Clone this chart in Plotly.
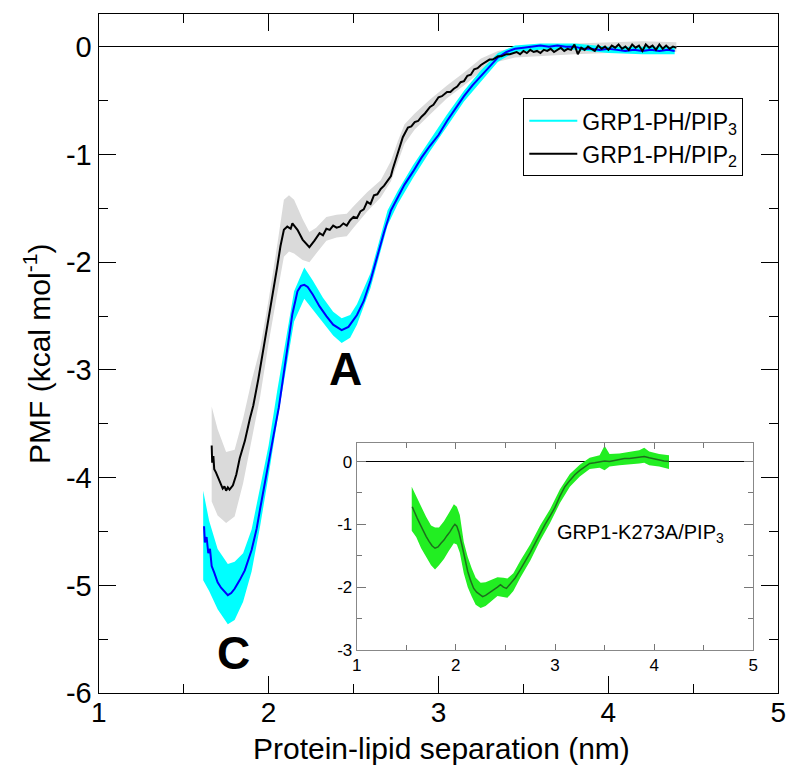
import plotly.graph_objects as go

# ---------------- main panel data ----------------
# GRP1-PH / PIP3 (blue line, cyan band)
pip3_x = [1.62, 1.625, 1.635, 1.645, 1.655, 1.665, 1.68, 1.70, 1.72, 1.74, 1.76, 1.78, 1.80,
          1.83, 1.86, 1.90, 1.93, 1.95, 2.00, 2.03, 2.06, 2.10, 2.14, 2.17, 2.19, 2.21, 2.23,
          2.26, 2.30, 2.34, 2.38, 2.43, 2.47, 2.52, 2.56, 2.60, 2.64, 2.68, 2.72, 2.76, 2.80,
          2.85, 2.90, 2.95, 3.00, 3.05, 3.10, 3.15, 3.20, 3.25, 3.30, 3.35, 3.40, 3.45, 3.50,
          3.55, 3.60, 3.65, 3.70, 3.75, 3.80, 3.85, 3.90, 3.95, 4.00, 4.05, 4.10, 4.15, 4.20,
          4.25, 4.30, 4.35, 4.39]
pip3_y = [-4.45, -4.60, -4.55, -4.70, -4.66, -4.82, -4.88, -4.97, -5.02, -5.06, -5.09, -5.07, -5.03,
          -4.95, -4.86, -4.67, -4.47, -4.29, -3.88, -3.60, -3.35, -2.90, -2.48, -2.27, -2.22, -2.21, -2.23,
          -2.30, -2.41, -2.50, -2.58, -2.63, -2.60, -2.49, -2.36, -2.17, -1.94, -1.72, -1.52, -1.40, -1.28,
          -1.16, -1.03, -0.92, -0.82, -0.69, -0.57, -0.46, -0.36, -0.27, -0.18, -0.10, -0.05, -0.02, -0.01,
          0.00, 0.01, 0.00, 0.01, 0.00, 0.00, -0.02, -0.02, -0.03, -0.02, -0.03, -0.04, -0.03, -0.04,
          -0.03, -0.04, -0.03, -0.04]
pip3_band_x = [1.615, 1.65, 1.70, 1.76, 1.80, 1.85, 1.90, 1.95, 2.00, 2.05, 2.10, 2.15, 2.21, 2.26,
               2.32, 2.38, 2.43, 2.48, 2.52, 2.60, 2.70, 2.76, 2.85, 2.95, 3.05, 3.15, 3.25, 3.35,
               3.45, 3.60, 3.80, 4.00, 4.20, 4.39]
pip3_band_lo = [-4.95, -5.05, -5.22, -5.36, -5.32, -5.15, -4.87, -4.45, -3.98, -3.48, -3.00, -2.55, -2.34, -2.44,
                -2.56, -2.68, -2.75, -2.70, -2.58, -2.24, -1.66, -1.46, -1.22, -0.97, -0.74, -0.51, -0.32, -0.14,
                -0.05, -0.03, -0.03, -0.06, -0.07, -0.07]
pip3_band_hi = [-4.12, -4.40, -4.66, -4.80, -4.78, -4.70, -4.48, -4.10, -3.70, -3.20, -2.72, -2.27, -2.05, -2.17,
                -2.33, -2.46, -2.52, -2.49, -2.39, -2.10, -1.52, -1.34, -1.10, -0.86, -0.63, -0.41, -0.22, -0.06,
                0.01, 0.03, 0.03, 0.00, 0.00, 0.00]

# GRP1-PH / PIP2 (black line, grey band)
pip2_x = [1.665, 1.668, 1.675, 1.68, 1.69, 1.70, 1.71, 1.72, 1.73, 1.74, 1.75, 1.76, 1.77, 1.79,
          1.81, 1.83, 1.86, 1.89, 1.91, 1.94, 1.97, 2.00, 2.02, 2.05, 2.07, 2.09, 2.11, 2.13,
          2.14, 2.17, 2.20, 2.22, 2.24, 2.27, 2.30, 2.32, 2.34, 2.36, 2.38, 2.40, 2.42, 2.44,
          2.46, 2.48, 2.50, 2.52, 2.54, 2.56, 2.58, 2.60, 2.62, 2.64, 2.66, 2.68, 2.70, 2.72,
          2.73, 2.76, 2.79, 2.82, 2.84, 2.86, 2.88, 2.90, 2.92, 2.95, 2.97, 3.00, 3.02, 3.05,
          3.07, 3.09, 3.11, 3.13, 3.15, 3.17, 3.19, 3.21, 3.23, 3.25, 3.27, 3.30, 3.32, 3.35,
          3.37, 3.40, 3.42, 3.44,
          3.46, 3.48, 3.50, 3.52, 3.54, 3.56, 3.58, 3.60, 3.62, 3.64, 3.66, 3.68, 3.70, 3.72,
          3.74, 3.76, 3.78, 3.80, 3.82, 3.84, 3.86, 3.88, 3.90, 3.92, 3.94, 3.96, 3.98, 4.00,
          4.02, 4.04, 4.06, 4.08, 4.10, 4.12, 4.14, 4.16, 4.18, 4.20, 4.22, 4.24, 4.26, 4.28,
          4.30, 4.32, 4.34, 4.36, 4.38, 4.40]
pip2_y = [-3.70, -3.86, -3.80, -3.92, -3.95, -3.99, -4.03, -4.06, -4.10, -4.08, -4.12, -4.09, -4.11, -4.07,
          -3.97, -3.82, -3.66, -3.45, -3.33, -3.08, -2.81, -2.52, -2.33, -2.05, -1.85, -1.70, -1.67, -1.69,
          -1.64, -1.70, -1.79, -1.83, -1.86, -1.80, -1.73, -1.75, -1.69, -1.70, -1.66, -1.68, -1.67, -1.64,
          -1.66, -1.61, -1.58, -1.59, -1.53, -1.51, -1.44, -1.46, -1.38, -1.37, -1.32, -1.29, -1.24, -1.20,
          -1.14, -0.98, -0.84, -0.75, -0.74, -0.70, -0.69, -0.65, -0.62, -0.56, -0.54, -0.47, -0.46, -0.42,
          -0.42, -0.39, -0.37, -0.33, -0.32, -0.27, -0.26, -0.21, -0.20, -0.17, -0.15, -0.12, -0.12, -0.09,
          -0.09, -0.07, -0.07, -0.06,
          -0.05, -0.07, -0.04, -0.06, -0.03, -0.05, -0.04, -0.06, -0.03, -0.04, -0.02, -0.05, -0.03, -0.01,
          -0.04, -0.02, -0.03, 0.02, -0.07, -0.01, -0.03, 0.00, -0.02, -0.04, 0.01, -0.02, 0.00, -0.03,
          0.01, -0.01, 0.02, -0.02, 0.00, -0.03, 0.02, -0.01, 0.01, -0.04, 0.02, -0.01, 0.01, -0.03,
          0.02, -0.02, 0.01, -0.02, 0.00, -0.01]
pip2_band_x = [1.665, 1.70, 1.75, 1.80, 1.85, 1.90, 1.95, 2.00, 2.05, 2.09, 2.12, 2.15, 2.20, 2.24,
               2.28, 2.34, 2.40, 2.46, 2.50, 2.58, 2.66, 2.72, 2.76, 2.80, 2.86, 2.95, 3.05, 3.15,
               3.25, 3.35, 3.45, 3.60, 3.80, 4.00, 4.20, 4.40]
pip2_band_lo = [-4.22, -4.35, -4.42, -4.36, -4.05, -3.65, -3.25, -2.75, -2.30, -1.95, -1.90, -1.92, -1.98, -2.00,
                -1.92, -1.80, -1.77, -1.76, -1.68, -1.53, -1.40, -1.25, -1.08, -0.90, -0.77, -0.63, -0.48, -0.36,
                -0.23, -0.14, -0.10, -0.09, -0.07, -0.06, -0.06, -0.05]
pip2_band_hi = [-3.34, -3.55, -3.76, -3.74, -3.45, -3.10, -2.80, -2.35, -1.85, -1.42, -1.38, -1.42, -1.60, -1.72,
                -1.68, -1.58, -1.56, -1.55, -1.48, -1.35, -1.24, -1.06, -0.88, -0.72, -0.62, -0.49, -0.36, -0.24,
                -0.11, -0.04, -0.01, 0.00, 0.03, 0.04, 0.05, 0.04]

# ---------------- inset data: GRP1-K273A / PIP3 ----------------
k273_x = [1.56, 1.58, 1.61, 1.64, 1.67, 1.70, 1.73, 1.76, 1.79, 1.82, 1.85, 1.88, 1.91, 1.94,
          1.97, 1.99, 2.01, 2.03, 2.06, 2.09, 2.12, 2.15, 2.18, 2.21, 2.24, 2.27, 2.30, 2.33,
          2.36, 2.39, 2.42, 2.45, 2.48, 2.51, 2.55, 2.60, 2.65, 2.70, 2.75, 2.80, 2.85, 2.90,
          2.95, 3.00, 3.05, 3.10, 3.15, 3.20, 3.25, 3.30, 3.35, 3.40, 3.45, 3.50, 3.55, 3.60,
          3.65, 3.70, 3.75, 3.80, 3.85, 3.90, 3.95, 4.00, 4.05, 4.10, 4.15]
k273_y = [-0.72, -0.80, -0.90, -1.00, -1.10, -1.19, -1.27, -1.34, -1.38, -1.36, -1.30, -1.25, -1.18, -1.12,
          -1.04, -1.00, -1.03, -1.12, -1.32, -1.55, -1.75, -1.90, -2.02, -2.08, -2.12, -2.15, -2.13, -2.10,
          -2.06, -2.04, -2.00, -1.96, -2.00, -2.02, -1.95, -1.85, -1.72, -1.59, -1.45, -1.30, -1.14, -1.00,
          -0.87, -0.73, -0.55, -0.40, -0.30, -0.21, -0.14, -0.08, -0.03, -0.02, 0.00, 0.01, 0.00, 0.02,
          0.04, 0.05, 0.05, 0.06, 0.07, 0.08, 0.06, 0.04, 0.02, 0.01, 0.00]
k273_band_x = [1.555, 1.60, 1.65, 1.70, 1.75, 1.79, 1.83, 1.88, 1.93, 1.98, 2.01, 2.04, 2.08, 2.12,
               2.16, 2.20, 2.25, 2.30, 2.36, 2.42, 2.48, 2.52, 2.58, 2.65, 2.75, 2.85, 2.95, 3.05,
               3.15, 3.25, 3.35, 3.45, 3.50, 3.55, 3.65, 3.75, 3.85, 3.90, 3.95, 4.05, 4.15]
k273_band_lo = [-1.10, -1.20, -1.38, -1.52, -1.65, -1.72, -1.65, -1.55, -1.42, -1.30, -1.32, -1.45, -1.78, -2.00,
                -2.15, -2.28, -2.33, -2.30, -2.22, -2.14, -2.16, -2.17, -2.06, -1.85, -1.58, -1.26, -0.98, -0.66,
                -0.40, -0.24, -0.12, -0.10, -0.14, -0.08, -0.06, -0.04, -0.03, -0.02, -0.06, -0.08, -0.12]
k273_band_hi = [-0.40, -0.55, -0.72, -0.88, -1.02, -1.05, -1.05, -0.95, -0.82, -0.68, -0.72, -0.85, -1.28, -1.52,
                -1.70, -1.85, -1.93, -1.92, -1.88, -1.84, -1.85, -1.86, -1.78, -1.58, -1.32, -1.02, -0.76, -0.44,
                -0.20, -0.05, 0.06, 0.10, 0.25, 0.12, 0.13, 0.15, 0.18, 0.22, 0.16, 0.12, 0.10]

# ticks
main_y_ticks = [0, -1, -2, -3, -4, -5, -6]
inset_y_ticks = [0, -1, -2, -3]
x_ticks = [1, 2, 3, 4, 5]

FONT = "Liberation Sans, Arial, Helvetica, sans-serif"
W, H = 800, 777
PAGE_OFF = 8  # the page body margin shifts the figure by this many pixels


def px_x(p):
    return (p - PAGE_OFF) / W


def px_y(p):
    return 1 - (p - PAGE_OFF) / H


def band(xs, lo, hi, color, xa="x", ya="y"):
    return go.Scatter(x=list(xs) + list(xs)[::-1], y=list(hi) + list(lo)[::-1],
                      fill="toself", fillcolor=color, mode="lines", line=dict(width=0, color=color),
                      hoverinfo="skip", showlegend=False, xaxis=xa, yaxis=ya)


fig = go.Figure()
fig.add_trace(band(pip2_band_x, pip2_band_lo, pip2_band_hi, "#dadada"))
fig.add_trace(band(pip3_band_x, pip3_band_lo, pip3_band_hi, "#00ffff"))
fig.add_trace(go.Scatter(x=pip3_x, y=pip3_y, mode="lines", line=dict(color="#0000ff", width=2),
                         showlegend=False))
fig.add_trace(go.Scatter(x=pip2_x, y=pip2_y, mode="lines", line=dict(color="black", width=2),
                         showlegend=False))
# legend entries
fig.add_trace(go.Scatter(x=[None], y=[None], mode="lines", line=dict(color="#00ffff", width=2),
                         name="GRP1-PH/PIP<sub>3</sub>"))
fig.add_trace(go.Scatter(x=[None], y=[None], mode="lines", line=dict(color="black", width=2),
                         name="GRP1-PH/PIP<sub>2</sub>"))
# inset
fig.add_trace(band(k273_band_x, k273_band_lo, k273_band_hi, "#22ee22", "x2", "y2"))
fig.add_trace(go.Scatter(x=k273_x, y=k273_y, mode="lines", line=dict(color="#1d6e1d", width=1.5),
                         showlegend=False, xaxis="x2", yaxis="y2"))


def fmt(v):
    return str(v).replace("\u2212", "-")


axis_common = dict(showgrid=False, showline=True, mirror="ticks", ticks="inside", automargin=False)

fig.update_layout(
    width=W, height=H,
    margin=dict(l=0, r=0, t=0, b=0),
    paper_bgcolor="white", plot_bgcolor="white",
    font=dict(family=FONT, color="black"),
    xaxis=dict(**axis_common, domain=[px_x(98.7), px_x(778.3)], range=[1, 5],
               tickmode="array", tickvals=x_ticks, ticktext=[fmt(v) for v in x_ticks],
               ticklen=17, tickwidth=1.3, tickcolor="black", linecolor="black", linewidth=1.3,
               zeroline=False, tickfont=dict(size=28), ticklabelstandoff=-6,
               minor=dict(dtick=0.5, tick0=1, ticks="inside", ticklen=9, tickwidth=1.3,
                          tickcolor="black", showgrid=False)),
    yaxis=dict(**axis_common, domain=[px_y(693.3), px_y(14.3)], range=[-6, 0.3],
               tickmode="array", tickvals=main_y_ticks, ticktext=[fmt(v) for v in main_y_ticks],
               ticklen=17, tickwidth=1.3, tickcolor="black", linecolor="black", linewidth=1.3,
               zeroline=True, zerolinecolor="black", zerolinewidth=1.3, tickfont=dict(size=29),
               minor=dict(dtick=0.5, tick0=0, ticks="inside", ticklen=9, tickwidth=1.3,
                          tickcolor="black", showgrid=False),
               title=dict(text="PMF (kcal mol<sup>-1</sup>)", font=dict(size=30), standoff=6)),
    xaxis2=dict(**axis_common, domain=[px_x(356.7), px_x(753.3)], range=[1, 5], anchor="y2",
                tickmode="array", tickvals=x_ticks, ticktext=[fmt(v) for v in x_ticks],
                ticklen=6, tickwidth=1, tickcolor="#777777", linecolor="#888888", linewidth=1,
                zeroline=False, tickfont=dict(size=17),
                minor=dict(dtick=0.5, tick0=1, ticks="inside", ticklen=5, tickwidth=1,
                           tickcolor="#777777", showgrid=False)),
    yaxis2=dict(**axis_common, domain=[px_y(650), px_y(442.7)], range=[-3, 0.3], anchor="x2",
                tickmode="array", tickvals=inset_y_ticks, ticktext=[fmt(v) for v in inset_y_ticks],
                ticklen=9, tickwidth=1, tickcolor="#777777", linecolor="#888888", linewidth=1,
                zeroline=True, zerolinecolor="black", zerolinewidth=1, tickfont=dict(size=17),
                minor=dict(dtick=0.5, tick0=0, ticks="inside", ticklen=5, tickwidth=1,
                           tickcolor="#777777", showgrid=False)),
    legend=dict(x=px_x(523.3), y=px_y(98.3), xanchor="left", yanchor="top", bgcolor="white",
                bordercolor="black", borderwidth=1, font=dict(size=23), itemwidth=48,
                tracegroupgap=0),
    annotations=[
        dict(text="Protein-lipid separation (nm)", x=px_x(441), y=px_y(748), xref="paper",
             yref="paper", xanchor="center", yanchor="middle", showarrow=False,
             font=dict(size=30, family=FONT)),
        dict(text="<b>A</b>", x=2.454, y=-3.03, xref="x", yref="y", showarrow=False,
             font=dict(size=46, family=FONT), yshift=4),
        dict(text="<b>C</b>", x=1.792, y=-5.63, xref="x", yref="y", showarrow=False,
             font=dict(size=46, family=FONT), yshift=0),
        dict(text="GRP1-K273A/PIP<sub>3</sub>", x=3.0, y=-1.15, xref="x2", yref="y2",
             xanchor="left", showarrow=False, font=dict(size=20, family=FONT)),
    ],
)

fig.write_html("out.html")
